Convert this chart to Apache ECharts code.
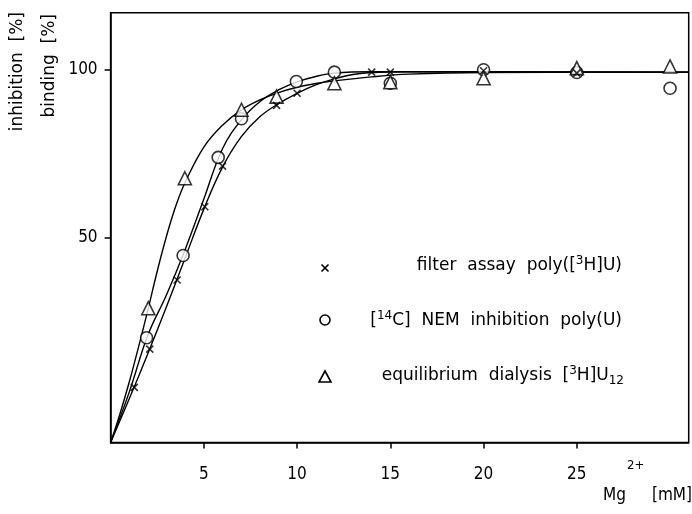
<!DOCTYPE html>
<html><head><meta charset="utf-8">
<script src="https://cdn.jsdelivr.net/npm/echarts@6/dist/echarts.min.js"></script>
<style>html,body{margin:0;padding:0;background:#fff}#c{width:692px;height:514px}</style>
</head><body><div id="c"></div>
<script>
// Measured points (x = Mg2+ mM, y = %)
const filterPts = [[1.27,5.4],[2.1,16.8],[3.57,37.4],[5.05,59.2],[6.0,71.3],[8.9,89.4],[10,93],[14,99.3],[15,99.3],[20,99.7],[25,99.0]];
const nemPts = [[1.93,20.2],[3.89,44.7],[5.77,73.9],[7.02,85.4],[9.96,96.5],[12,99.3],[15,96.0],[20,100],[25,99.2],[30,94.5]];
const dialysisPts = [[2.02,29],[3.98,67.7],[7.02,88.1],[8.9,92],[12,96],[15,96.3],[20,97.5],[25,100.5],[30,101]];
// Fitted curves as drawn in the figure
const filterCurve = [[0,-11],[1,2],[2,15.5],[3,29.5],[4,44],[5,58.5],[6,71],[7,80],[8,86],[9,89.9],[10,93],[11,95.5],[12,97.3],[13,98.6],[14,99.2],[16,99.4],[20,99.4],[31,99.3]];
const nemCurve = [[0,-11],[1,4],[2,21],[3,33],[4,46.5],[5,61.5],[6,76.5],[7,85],[8,90.5],[9,94],[10,96.4],[11,98],[12,99],[14,99.4],[20,99.4],[31,99.3]];
const dialysisCurve = [[0,-11],[0.5,-2.5],[1,7],[1.5,17.5],[2,28.5],[2.5,40],[3,50.5],[3.5,59.5],[4,66.5],[5,77],[6,83.5],[7,88],[8,91],[9,93.2],[10,94.8],[11,95.9],[12,96.7],[14,97.9],[16,98.7],[20,99.2],[31,99.3]];
const xTicks = [5,10,15,20,25];
const yTicks = [50,100];

const FONT = 'DejaVu Sans Condensed';
const FONT2 = 'DejaVu Sans';
const chart = echarts.init(document.getElementById('c'), null, {renderer:'canvas'});
const crossPath = 'path://M0,0L10,10M10,0L0,10';
const lineStyle = {color:'#000', width:1.4};
function curve(d){return {type:'line', data:d, showSymbol:false, smooth:0.4, lineStyle:lineStyle, silent:true, z:2};}
const supRich = {sup:{fontSize:12, fontFamily:FONT2, padding:[0,0,10,0], fill:'#000'}, sub:{fontSize:12, fontFamily:FONT2, padding:[10,0,0,0], fill:'#000'}};
const f17 = '17px "'+FONT2+'"';
chart.setOption({
  animation:false,
  grid:{left:110.6, right:3.3, top:12.7, bottom:71.5, show:true, borderColor:'#000', borderWidth:1.5},
  xAxis:{type:'value', min:0, max:31,
    axisLine:{show:true, onZero:false, lineStyle:{color:'#000', width:1.5}},
    axisTick:{show:true, customValues:xTicks, length:6, lineStyle:{color:'#000', width:1.5}},
    axisLabel:{customValues:xTicks, color:'#000', fontFamily:FONT, fontSize:17, margin:24},
    splitLine:{show:false}},
  yAxis:{type:'value', min:-11, max:117,
    axisLine:{show:true, onZero:false, lineStyle:{color:'#000', width:1.5}},
    axisTick:{show:true, customValues:yTicks, length:6, lineStyle:{color:'#000', width:1.5}},
    axisLabel:{customValues:yTicks, color:'#000', fontFamily:FONT, fontSize:17, margin:13},
    splitLine:{show:false}},
  series:[
    curve(filterCurve), curve(nemCurve), curve(dialysisCurve),
    {type:'scatter', name:'filter assay', data:filterPts, symbol:crossPath, symbolSize:7,
      itemStyle:{color:'#000', borderColor:'#000', borderWidth:1.6}, z:4},
    {type:'scatter', name:'NEM inhibition', data:nemPts, symbol:'circle', symbolSize:12,
      itemStyle:{color:'#fff', borderColor:'#000', borderWidth:1.6}, z:3},
    {type:'scatter', name:'equilibrium dialysis', data:dialysisPts, symbol:'triangle', symbolSize:13,
      itemStyle:{color:'#fff', borderColor:'#000', borderWidth:1.6}, z:3}
  ],
  graphic:[
    {type:'text', x:18, y:12, rotation:Math.PI/2, style:{text:'inhibition  [%]', fill:'#000', font:f17, align:'right', verticalAlign:'middle'}},
    {type:'text', x:50, y:14, rotation:Math.PI/2, style:{text:'binding  [%]', fill:'#000', font:f17, align:'right', verticalAlign:'middle'}},
    {type:'text', x:603, y:496, style:{text:'Mg', fill:'#000', font:'17px "'+FONT+'"', align:'left', verticalAlign:'middle'}},
    {type:'text', x:627, y:466, style:{text:'2+', fill:'#000', font:'13px "'+FONT+'"', align:'left', verticalAlign:'middle'}},
    {type:'text', x:692, y:496, style:{text:'[mM]', fill:'#000', font:'17px "'+FONT+'"', align:'right', verticalAlign:'middle'}},
    {type:'group', children:[
      {type:'line', shape:{x1:321.5,y1:264.5,x2:328.5,y2:271.5}, style:{stroke:'#000', lineWidth:1.6}},
      {type:'line', shape:{x1:328.5,y1:264.5,x2:321.5,y2:271.5}, style:{stroke:'#000', lineWidth:1.6}},
      {type:'circle', shape:{cx:325, cy:320, r:5}, style:{fill:'#fff', stroke:'#000', lineWidth:1.6}},
      {type:'polygon', shape:{points:[[325,371],[331,382],[319,382]]}, style:{fill:'#fff', stroke:'#000', lineWidth:1.6}}
    ]},
    {type:'text', x:622, y:266, style:{text:'filter  assay  poly([{sup|3}H]U)', fill:'#000', font:f17, align:'right', verticalAlign:'middle', rich:supRich}},
    {type:'text', x:622, y:321, style:{text:'[{sup|14}C]  NEM  inhibition  poly(U)', fill:'#000', font:f17, align:'right', verticalAlign:'middle', rich:supRich}},
    {type:'text', x:624, y:376, style:{text:'equilibrium  dialysis  [{sup|3}H]U{sub|12}', fill:'#000', font:f17, align:'right', verticalAlign:'middle', rich:supRich}}
  ]
});
</script></body></html>
